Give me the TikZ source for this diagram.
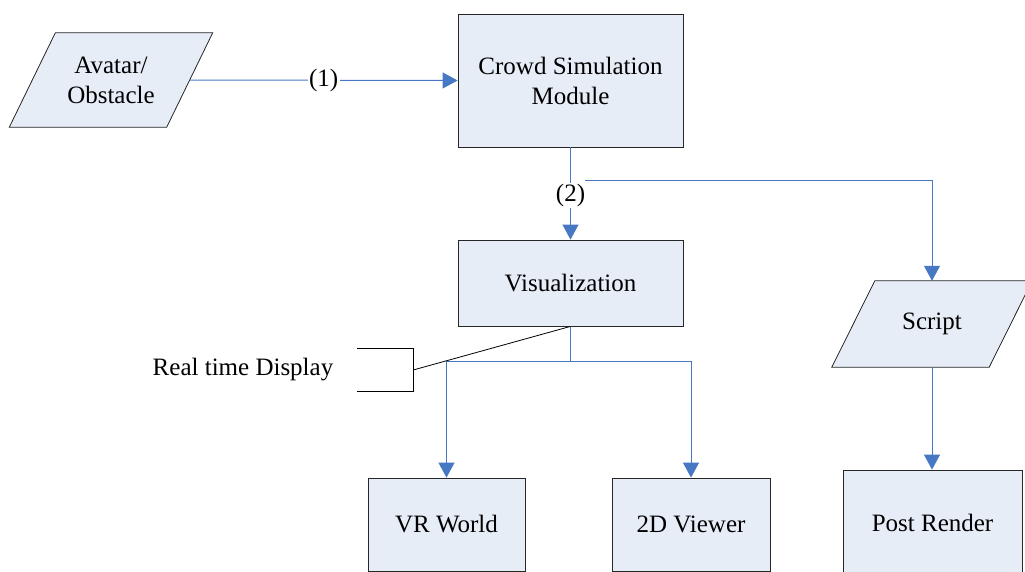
\documentclass[tikz,border=0pt]{standalone}
\usepackage{fontspec}
\setmainfont{Liberation Serif}
\usetikzlibrary{arrows.meta,backgrounds}
\definecolor{boxfill}{RGB}{231,237,247}
\definecolor{flowblue}{RGB}{71,120,196}
\begin{document}
\begin{tikzpicture}[x=1pt,y=-1pt,
  font=\fontsize{25}{30}\selectfont,
  box/.style={draw=black!85, fill=boxfill, line width=0.8pt, align=center, inner sep=0pt},
  plain/.style={align=center, inner sep=0pt},
  para/.style={draw=black!85, fill=boxfill, line width=0.8pt},
  flow/.style={draw=flowblue, line width=1pt, -{Triangle[length=15pt,width=16pt]}},
  wire/.style={draw=flowblue, line width=1pt},
  tag/.style={fill=white, inner sep=1.5pt},
  callout/.style={draw=black, line width=0.8pt}]
\useasboundingbox (0,0) rectangle (1025,572);

% nodes
\node[box, minimum width=225pt, minimum height=133pt] (crowd) at (570.5,80.5) {Crowd Simulation\\Module};
\node[box, minimum width=225pt, minimum height=86pt] (vis) at (570.5,283) {Visualization};
\node[box, minimum width=157pt, minimum height=93pt] (vr) at (446.5,524.5) {VR World};
\node[box, minimum width=158pt, minimum height=93pt] (view) at (691,524.5) {2D Viewer};
\node[box, minimum width=179pt, minimum height=106pt] (post) at (932.5,523) {Post Render};
\node[plain, minimum width=157pt, minimum height=94pt] (avatar) at (111,80) {Avatar/\\Obstacle};
\node[plain, minimum width=157pt, minimum height=86pt] (script) at (932,324) {Script};
\node[plain] (rtdtext) at (243,370) {Real time Display};
\node[inner sep=0pt, minimum width=56pt, minimum height=42pt] (rtd) at (385,370) {};

\begin{scope}[on background layer]
  \fill[white] (0,0) rectangle (1025,572);
  \draw[para] ([xshift=23pt]avatar.north west) -- ([xshift=23pt]avatar.north east)
     -- ([xshift=-23pt]avatar.south east) -- ([xshift=-23pt]avatar.south west) -- cycle;
  \draw[para] ([xshift=21.5pt]script.north west) -- ([xshift=21.5pt]script.north east)
     -- ([xshift=-21.5pt]script.south east) -- ([xshift=-21.5pt]script.south west) -- cycle;
\end{scope}

% connectors
\draw[flow] (avatar.east) -- node[tag]{(1)} (crowd.west);
\draw[flow] (crowd.south) -- node[tag, pos=0.52]{(2)} (vis.north);
\coordinate (fork) at (585,181);
\draw[flow] (fork) -| (script.north);
\coordinate (split) at (570.5,361);
\draw[wire] (vis.south) -- (split);
\draw[flow] (split) -| (vr.north);
\draw[flow] (split) -| (view.north);
\draw[flow] (script.south) -- (script.south |- post.north);

% real time display callout
\draw[callout] (rtd.north west) -- (rtd.north east) -- (rtd.south east) -- (rtd.south west);
\draw[callout] (rtd.east) -- (vis.south);
\end{tikzpicture}
\end{document}
